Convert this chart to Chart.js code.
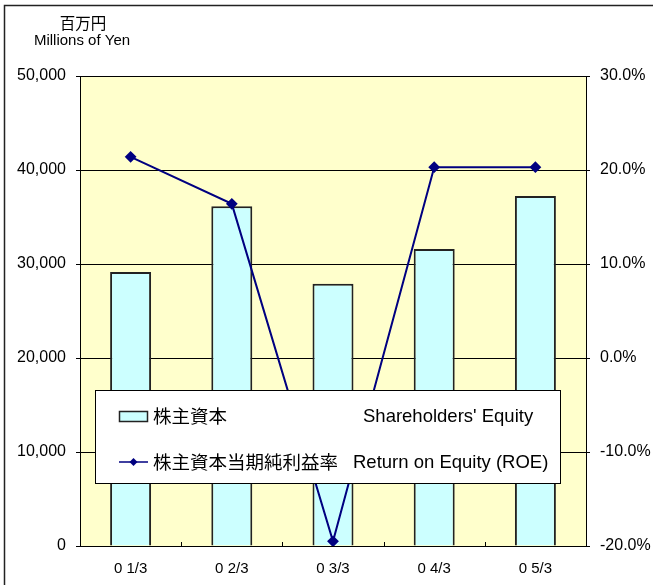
<!DOCTYPE html>
<html>
<head>
<meta charset="utf-8">
<script src="https://cdn.jsdelivr.net/npm/chart.js@4.4.1/dist/chart.umd.min.js"></script>
<style>
  html, body { margin: 0; padding: 0; background: #fff; }
  canvas { display: block; }
</style>
</head>
<body>
<canvas id="chart" width="653" height="585"></canvas>
<script>
// data
const periods = ["0 1/3", "0 2/3", "0 3/3", "0 4/3", "0 5/3"];
const equity = [29150, 36150, 27900, 31600, 37230];   // millions of yen
const roe = [21.4, 16.4, -19.5, 20.3, 20.3];           // percent
const equityRange = [0, 50000, 10000];
const roeRange = [-20, 30, 10];
const unitLines = ["百万円", "Millions of Yen"];
const equityLabel = ["株主資本", "Shareholders' Equity"];
const roeLabel = ["株主資本当期純利益率", "Return on Equity (ROE)"];

const LATIN = "'Liberation Sans', Arial, sans-serif";
const CJK = "'Noto Sans CJK JP', sans-serif";
const BAR_FILL = "#CCFFFF";
const NAVY = "#000080";

// yellow plot background, outer frame, unit caption, inner x ticks
const decor = {
    id: "decor",
    beforeDraw(chart) {
        const { ctx, chartArea: a } = chart;
        ctx.save();
        ctx.fillStyle = "#FFFFCC";
        ctx.fillRect(a.left, a.top, a.right - a.left, a.bottom - a.top);
        ctx.strokeStyle = "#222";
        ctx.lineWidth = 1.5;
        ctx.strokeRect(4.5, 5.5, 800, 800);
        ctx.fillStyle = "#000";
        ctx.textAlign = "center";
        ctx.textBaseline = "middle";
        ctx.font = "15.5px " + CJK;
        ctx.fillText(unitLines[0], 83, 23.5);
        ctx.font = "15px " + LATIN;
        ctx.fillText(unitLines[1], 82, 41);
        ctx.restore();
    },
    afterDatasetsDraw(chart) {
        const { ctx, chartArea: a } = chart;
        const x = chart.scales.x;
        const n = periods.length;
        const step = (x.right - x.left) / n;
        ctx.save();
        ctx.strokeStyle = "#000";
        ctx.lineWidth = 1;
        ctx.beginPath();
        for (let i = 1; i < n; i++) {
            const px = Math.round(x.left + i * step) + 0.5;
            ctx.moveTo(px, a.bottom);
            ctx.lineTo(px, a.bottom - 4);
        }
        ctx.stroke();
        ctx.restore();
    }
};

// boxed legend laid over the plot
const boxLegend = {
    id: "boxLegend",
    afterDraw(chart) {
        const { ctx } = chart;
        ctx.save();
        ctx.fillStyle = "#fff";
        ctx.fillRect(95, 390, 465, 93);
        ctx.strokeStyle = "#000";
        ctx.lineWidth = 1;
        ctx.strokeRect(95.5, 390.5, 465, 93);

        // bar swatch
        ctx.fillStyle = BAR_FILL;
        ctx.fillRect(119, 411, 29, 11);
        ctx.strokeStyle = "#222";
        ctx.lineWidth = 1.5;
        ctx.strokeRect(119.5, 411.5, 28, 10);

        // line swatch
        ctx.strokeStyle = NAVY;
        ctx.lineWidth = 1.5;
        ctx.beginPath();
        ctx.moveTo(119, 462);
        ctx.lineTo(148, 462);
        ctx.stroke();
        ctx.fillStyle = NAVY;
        ctx.beginPath();
        ctx.moveTo(133.5, 458);
        ctx.lineTo(137.5, 462);
        ctx.lineTo(133.5, 466);
        ctx.lineTo(129.5, 462);
        ctx.closePath();
        ctx.fill();

        ctx.fillStyle = "#000";
        ctx.textAlign = "left";
        ctx.textBaseline = "middle";
        ctx.font = "18.5px " + CJK;
        ctx.fillText(equityLabel[0], 153, 416);
        ctx.fillText(roeLabel[0], 153, 462);
        ctx.font = "18.5px " + LATIN;
        ctx.fillText(equityLabel[1], 363, 417);
        ctx.fillText(roeLabel[1], 353, 463);
        ctx.restore();
    }
};

new Chart(document.getElementById("chart"), {
    data: {
        labels: periods,
        datasets: [
            {
                type: "line",
                label: roeLabel[1],
                data: roe,
                yAxisID: "yRoe",
                borderColor: NAVY,
                borderWidth: 2,
                pointStyle: "rectRot",
                pointRadius: 4.5,
                pointBackgroundColor: NAVY,
                pointBorderColor: NAVY,
                tension: 0,
                order: 1
            },
            {
                type: "bar",
                label: equityLabel[1],
                data: equity,
                yAxisID: "yEq",
                backgroundColor: BAR_FILL,
                borderColor: "#222",
                borderWidth: 2,
                barPercentage: 0.5,
                categoryPercentage: 0.81,
                order: 2
            }
        ]
    },
    options: {
        responsive: false,
        devicePixelRatio: 1,
        animation: false,
        layout: { padding: { top: 76, left: 0, right: 0, bottom: 0 } },
        plugins: {
            legend: { display: false },
            tooltip: { enabled: false }
        },
        scales: {
            x: {
                offset: true,
                grid: { display: false, drawTicks: false },
                border: { display: true, color: "#000", width: 1 },
                ticks: {
                    color: "#000",
                    padding: 14,
                    font: { family: LATIN, size: 15 }
                },
                afterFit(s) { s.height = 39; }
            },
            yEq: {
                position: "left",
                min: equityRange[0],
                max: equityRange[1],
                grid: { color: "#000", lineWidth: 1, tickLength: 4, drawTicks: true },
                border: { display: true, color: "#000", width: 1 },
                ticks: {
                    stepSize: equityRange[2],
                    color: "#000",
                    padding: 10,
                    font: { family: LATIN, size: 16 },
                    callback: v => v.toLocaleString("en-US")
                },
                afterFit(s) { s.width = 80; }
            },
            yRoe: {
                position: "right",
                min: roeRange[0],
                max: roeRange[1],
                grid: { drawOnChartArea: false, color: "#000", tickLength: 4 },
                border: { display: true, color: "#000", width: 1 },
                ticks: {
                    stepSize: roeRange[2],
                    color: "#000",
                    padding: 10,
                    font: { family: LATIN, size: 16 },
                    callback: v => v.toFixed(1) + "%"
                },
                afterFit(s) { s.width = 67; }
            }
        }
    },
    plugins: [decor, boxLegend]
});
</script>
</body>
</html>
